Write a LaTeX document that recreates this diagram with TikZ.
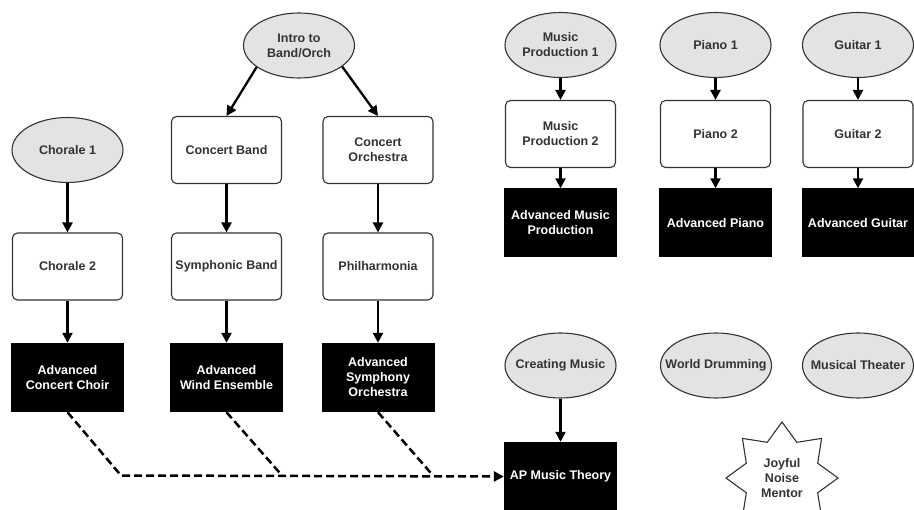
\documentclass[tikz,border=0pt]{standalone}
\usepackage{fontspec}
\newfontfamily\chartfont{Liberation Sans}
\usetikzlibrary{shapes.geometric,arrows.meta}
\definecolor{edgegray}{HTML}{333333}
\definecolor{ovalgray}{HTML}{E3E3E3}
\tikzset{
	% three course styles: starting oval, next level box, advanced (black) box
	start course/.style={ellipse,draw=edgegray,fill=ovalgray,text=edgegray,line width=1.1pt,
		minimum width=111pt,minimum height=65pt,inner xsep=-25pt,inner ysep=0pt,align=center},
	next course/.style={rectangle,rounded corners=5pt,draw=edgegray,fill=white,text=edgegray,
		line width=1.1pt,minimum width=110pt,minimum height=67pt,inner sep=0pt,align=center},
	adv course/.style={rectangle,fill=black,text=white,
		minimum width=113pt,minimum height=69pt,inner sep=0pt,align=center}
}

\begin{document}
\begin{tikzpicture}[x=1pt,y=-1pt,font=\chartfont\bfseries\fontsize{12.5}{15}\selectfont,
	>={Triangle[length=10pt,width=10pt]}]

\useasboundingbox (0,0) rectangle (914,510);
\clip (0,0) rectangle (914,510);

% choir
\node[start course] (ch1) at (67.5,150) {Chorale 1};
\node[next course] (ch2) at (67.5,266.5) {Chorale 2};
\node[adv course] (acc) at (67.5,377.5) {Advanced\\Concert Choir};

% band and orchestra
\node[start course] (intro) at (299,45.5) {Intro to\\Band/Orch};
\node[next course] (cb) at (226.5,150) {Concert Band};
\node[next course] (sb) at (226.5,266.5) {Symphonic Band};
\node[adv course] (awe) at (226.5,377.5) {Advanced\\Wind Ensemble};
\node[next course] (co) at (378,150) {Concert\\Orchestra};
\node[next course] (ph) at (378,266.5) {Philharmonia};
\node[adv course] (aso) at (378,377.5) {Advanced\\Symphony\\Orchestra};

% production, piano, guitar
\node[start course] (mp1) at (560.5,45) {Music\\Production 1};
\node[next course] (mp2) at (560.5,134) {Music\\Production 2};
\node[adv course] (amp) at (560.5,223) {Advanced Music\\Production};
\node[start course] (pi1) at (715.5,45) {Piano 1};
\node[next course] (pi2) at (715.5,134) {Piano 2};
\node[adv course] (api) at (715.5,223) {Advanced Piano};
\node[start course] (gu1) at (858,45) {Guitar 1};
\node[next course] (gu2) at (858,134) {Guitar 2};
\node[adv course] (agu) at (858,223) {Advanced Guitar};

% theory and the rest
\node[start course] (cm) at (560.5,365.5) {Creating Music};
\node[adv course] (apt) at (560.5,476.5) {AP Music Theory};
\node[start course] (wd) at (716,365.5) {World Drumming};
\node[start course] (mt) at (858,365.5) {Musical Theater};
\node[star,star points=8,star point ratio=1.45,minimum size=112pt,inner sep=0pt,line width=1.1pt,
	draw=edgegray,fill=white,text=edgegray,align=center] (jnm) at (782,478) {Joyful\\Noise\\Mentor};

\coordinate (k1) at (121,475.5);
\coordinate (k2) at (282,475.5);
\coordinate (k3) at (433,475.5);

\path[->, line width=2.3pt] (intro.207) edge (cb.north)
          (intro.334) edge (co.north)
          (ch1) edge (ch2)
          (ch2) edge (acc)
          (cb) edge (sb)
          (sb) edge (awe)
          (co) edge (ph)
          (ph) edge (aso)
          (mp1) edge (mp2)
          (mp2) edge (amp)
          (pi1) edge (pi2)
          (pi2) edge (api)
          (gu1) edge (gu2)
          (gu2) edge (agu)
          (cm) edge (apt);
\draw[->, line width=2.5pt, dash pattern=on 8pt off 4pt] (acc.south) -- (k1) -- (apt.west);
\draw[line width=2.5pt, dash pattern=on 8pt off 4pt] (awe.south) -- (k2)
          (aso.south) -- (k3);

\end{tikzpicture}
\end{document}
